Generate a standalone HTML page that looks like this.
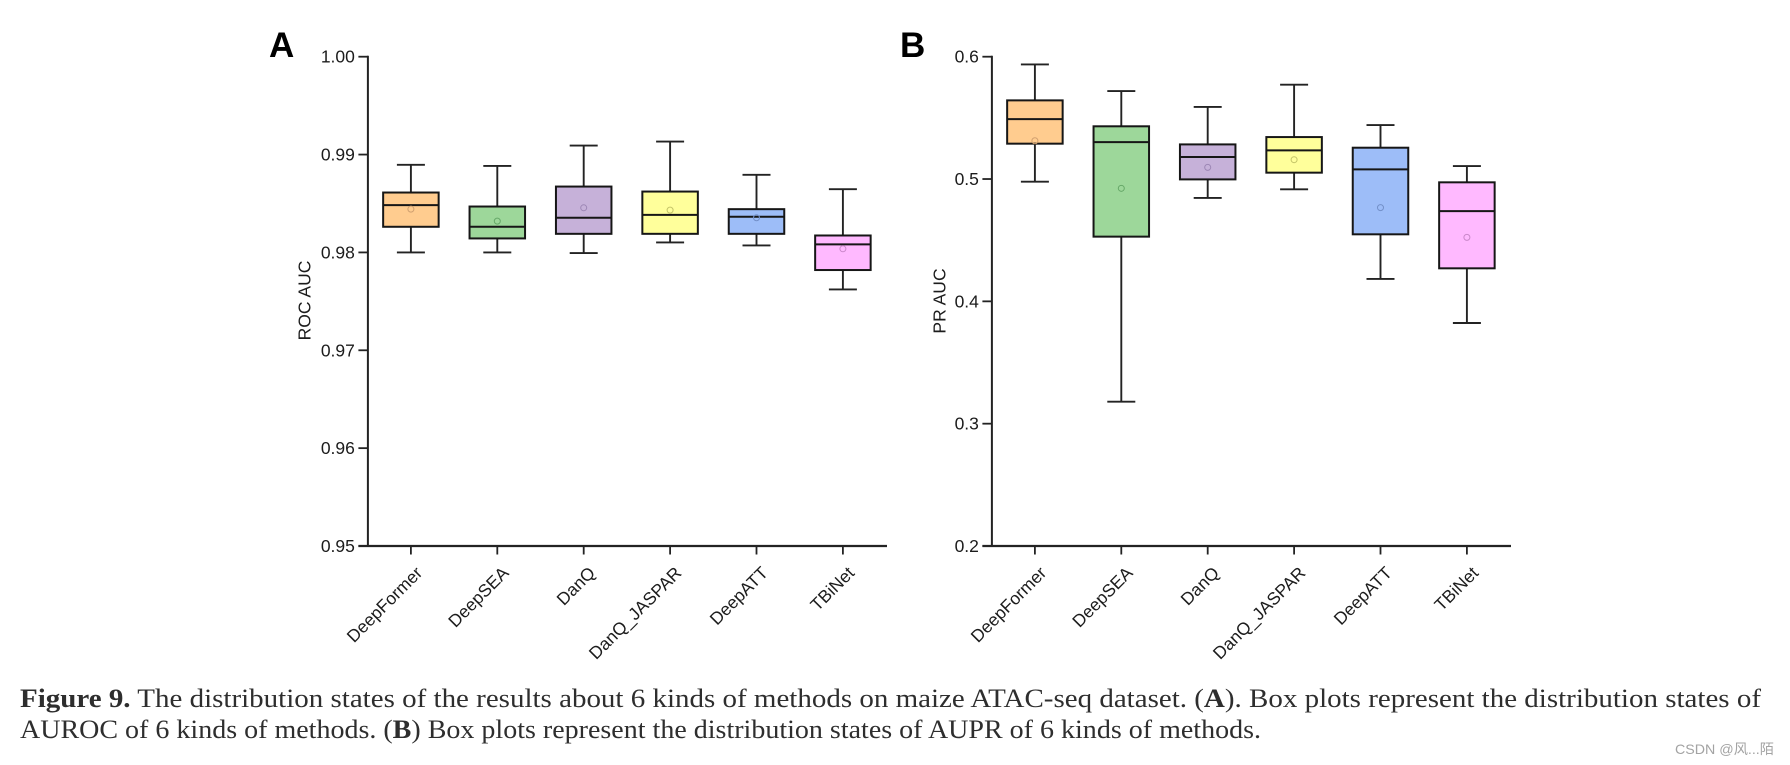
<!DOCTYPE html>
<html lang="en">
<head>
<meta charset="utf-8">
<title>Figure 9 box plots</title>
<style>
html,body{margin:0;padding:0;background:#fff;width:1790px;height:765px;overflow:hidden}
svg{display:block}
.tick{font-family:"Liberation Sans",sans-serif;font-size:17.5px;fill:#1c1c1c}
.title{font-family:"Liberation Sans",sans-serif;font-size:17.5px;fill:#1c1c1c}
.panel{font-family:"Liberation Sans",sans-serif;font-size:35px;font-weight:bold;fill:#000}
.cap{font-family:"Liberation Serif",serif;font-size:26px;fill:#2e2e2e}
.wm{font-family:"Liberation Sans","Noto Sans CJK SC",sans-serif;font-size:14px;fill:#a3a3a3}
</style>
</head>
<body>
<svg id="fig" xmlns="http://www.w3.org/2000/svg" width="1790" height="765" viewBox="0 0 1790 765">
  <rect width="1790" height="765" fill="#fff"/>
  <text class="panel" x="269" y="57">A</text>
  <text class="panel" x="900" y="57">B</text>
  <text class="title" transform="translate(310.5,300.5) rotate(-90)" text-anchor="middle">ROC AUC</text>
  <text class="title" transform="translate(945.5,301) rotate(-90)" text-anchor="middle">PR AUC</text>
  <g id="panelA"></g>
  <g id="panelB"></g>
  <text class="cap" x="20" y="707" textLength="1741" lengthAdjust="spacingAndGlyphs"><tspan font-weight="bold">Figure 9.</tspan> The distribution states of the results about 6 kinds of methods on maize ATAC-seq dataset. (<tspan font-weight="bold">A</tspan>). Box plots represent the distribution states of</text>
  <text class="cap" x="20" y="738" textLength="1241" lengthAdjust="spacingAndGlyphs">AUROC of 6 kinds of methods. (<tspan font-weight="bold">B</tspan>) Box plots represent the distribution states of AUPR of 6 kinds of methods.</text>
  <text class="wm" x="1675" y="754" textLength="99" lengthAdjust="spacingAndGlyphs">CSDN @风...陌</text>
</svg>
<script>
const categories = ["DeepFormer","DeepSEA","DanQ","DanQ_JASPAR","DeepATT","TBiNet"];

const rocTickLabels = ["1.00","0.99","0.98","0.97","0.96","0.95"];
const rocHigh   = [0.98895,0.98884,0.99092,0.99133,0.98793,0.98646];
const rocQ3     = [0.98612,0.98469,0.98673,0.98622,0.98442,0.98173];
const rocMedian = [0.98483,0.98262,0.98354,0.98384,0.98364,0.98082];
const rocQ1     = [0.98262,0.98143,0.98190,0.98190,0.98190,0.97820];
const rocLow    = [0.98000,0.98000,0.97993,0.98102,0.98071,0.97622];
const rocMean   = [0.98442,0.98320,0.98456,0.98432,0.98354,0.98037];

const prTickLabels = ["0.6","0.5","0.4","0.3","0.2"];
const prHigh   = [0.5937,0.5719,0.5589,0.5771,0.5441,0.5106];
const prQ3     = [0.5643,0.5431,0.5283,0.5343,0.5256,0.4973];
const prMedian = [0.5490,0.5302,0.5180,0.5234,0.5079,0.4738];
const prQ1     = [0.5289,0.4529,0.4997,0.5052,0.4548,0.4270];
const prLow    = [0.4978,0.3180,0.4845,0.4916,0.4183,0.3823];
const prMean   = [0.5313,0.4924,0.5095,0.5158,0.4766,0.4523];

const boxColors = ["#FFCC8F","#9DD79A","#C6B1D9","#FFFF9B","#9DBDF8","#FFB9FF"];
const meanColors = ["#d0a070","#66a868","#9d87b5","#c4c468","#7390c9","#c987c9"];

const NS = "http://www.w3.org/2000/svg";
const INK = "#232323";

function mk(parent, tag, attrs, text) {
  const el = document.createElementNS(NS, tag);
  for (const k in attrs) el.setAttribute(k, attrs[k]);
  if (text !== undefined) el.textContent = text;
  parent.appendChild(el);
  return el;
}

function drawPanel(group, cfg) {
  const yScale = v => cfg.top + (cfg.yMax - v) / (cfg.yMax - cfg.yMin) * (cfg.bottom - cfg.top);
  const xScale = i => cfg.axisX + 43 + i * 86.4;
  const boxW = 55.5, capW = 28;

  const yAxis = mk(group, "line", {x1: cfg.axisX, x2: cfg.axisX, y1: cfg.top - 1, y2: cfg.bottom + 1, stroke: INK, "stroke-width": 2});
  
  
  const xAxis = mk(group, "line", {x1: cfg.axisX - 9.5, x2: cfg.axisRight, y1: cfg.bottom, y2: cfg.bottom, stroke: INK, "stroke-width": 2.2});
  
  

  cfg.tickLabels.forEach(label => {
    const v = parseFloat(label), y = yScale(v);
    const t = mk(group, "line", {x1: cfg.axisX - 9.5, x2: cfg.axisX, y1: y, y2: y, stroke: INK, "stroke-width": 1.8});
    
    
    const l = mk(group, "text", {x: cfg.axisX - 13, y: y + 6, "text-anchor": "end", class: "tick"}, label);
    
    
  });

  categories.forEach((name, i) => {
    const x = xScale(i);
    const t = mk(group, "line", {x1: x, x2: x, y1: cfg.bottom, y2: cfg.bottom + 8.5, stroke: INK, "stroke-width": 1.8});
    
    
    const l = mk(group, "text", {transform: "translate(" + (x + 12.5) + "," + (cfg.bottom + 28) + ") rotate(-45)", "text-anchor": "end", class: "tick"}, name);
    
    

    const g = mk(group, "g", {});
    
    

    const hi = yScale(cfg.high[i]), lo = yScale(cfg.low[i]);
    const q3 = yScale(cfg.q3[i]), q1 = yScale(cfg.q1[i]);
    const med = yScale(cfg.median[i]), mean = yScale(cfg.mean[i]);

    const wh = mk(g, "line", {x1: x, x2: x, y1: hi, y2: lo, stroke: INK, "stroke-width": 1.9});
    
    
    const capTop = mk(g, "line", {x1: x - capW / 2, x2: x + capW / 2, y1: hi, y2: hi, stroke: INK, "stroke-width": 1.9});
    
    
    const capBot = mk(g, "line", {x1: x - capW / 2, x2: x + capW / 2, y1: lo, y2: lo, stroke: INK, "stroke-width": 1.9});
    
    
    const box = mk(g, "rect", {x: x - boxW / 2, y: q3, width: boxW, height: q1 - q3, fill: boxColors[i], stroke: "#161616", "stroke-width": 2});
    
    
    const m = mk(g, "line", {x1: x - boxW / 2, x2: x + boxW / 2, y1: med, y2: med, stroke: "#161616", "stroke-width": 2});
    
    
    const c = mk(g, "circle", {cx: x, cy: mean, r: 3, fill: "none", stroke: meanColors[i], "stroke-width": 1});
    
    
  });
}

drawPanel(document.getElementById("panelA"), {
  axisX: 367.9, axisRight: 887, top: 56.7, bottom: 546, yMax: 1.00, yMin: 0.95,
  tickLabels: rocTickLabels, high: rocHigh, q3: rocQ3, median: rocMedian, q1: rocQ1, low: rocLow, mean: rocMean
});
drawPanel(document.getElementById("panelB"), {
  axisX: 991.9, axisRight: 1511, top: 56.7, bottom: 546, yMax: 0.6, yMin: 0.2,
  tickLabels: prTickLabels, high: prHigh, q3: prQ3, median: prMedian, q1: prQ1, low: prLow, mean: prMean
});
</script>
</body>
</html>
